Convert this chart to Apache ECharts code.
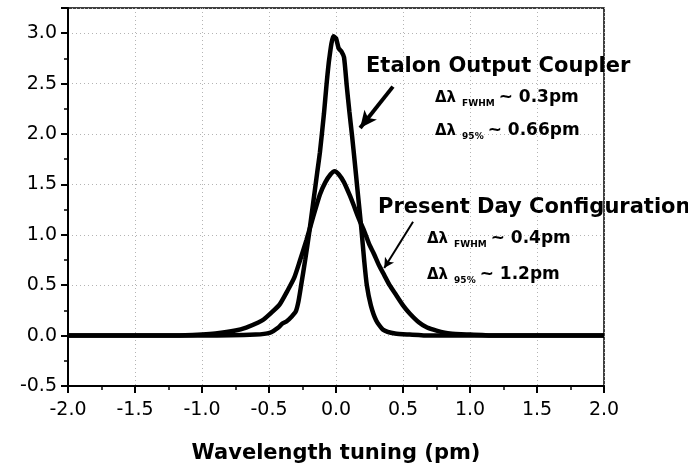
<!DOCTYPE html>
<html>
<head>
<meta charset="utf-8">
<script src="https://cdn.jsdelivr.net/npm/echarts@6/dist/echarts.min.js"></script>
<style>
    html, body { margin: 0; padding: 0; background: #fff; }
    #chart { width: 688px; height: 469px; }
</style>
</head>
<body>
<div id="chart"></div>
<script>
// 数据：波长调谐 (pm) 与强度
var etalonX = [-2.0, -1.5, -1.0, -0.6, -0.49, -0.43, -0.4, -0.37, -0.33, -0.3, -0.28, -0.26, -0.23, -0.2, -0.17, -0.14, -0.12, -0.09, -0.07, -0.05, -0.02, 0.0, 0.02, 0.04, 0.06, 0.08, 0.1, 0.12, 0.14, 0.16, 0.19, 0.21, 0.23, 0.26, 0.3, 0.35, 0.44, 0.55, 0.7, 1.0, 1.5, 2.0];
var etalonY = [0.0, 0.0, 0.0, 0.01, 0.03, 0.08, 0.12, 0.14, 0.19, 0.24, 0.34, 0.5, 0.75, 1.02, 1.32, 1.62, 1.82, 2.2, 2.5, 2.75, 2.97, 2.95, 2.85, 2.82, 2.76, 2.48, 2.22, 1.98, 1.72, 1.45, 1.05, 0.75, 0.5, 0.3, 0.15, 0.06, 0.02, 0.01, 0.0, 0.0, 0.0, 0.0];

var presentX = [-2.0, -1.5, -1.2, -1.0, -0.9, -0.75, -0.67, -0.58, -0.54, -0.48, -0.42, -0.36, -0.31, -0.27, -0.22, -0.17, -0.12, -0.08, -0.04, -0.01, 0.02, 0.06, 0.1, 0.13, 0.17, 0.21, 0.25, 0.28, 0.32, 0.36, 0.4, 0.44, 0.5, 0.55, 0.62, 0.68, 0.75, 0.85, 1.0, 1.2, 1.5, 2.0];
var presentY = [0.0, 0.0, 0.0, 0.01, 0.02, 0.05, 0.08, 0.13, 0.16, 0.23, 0.31, 0.45, 0.58, 0.74, 0.95, 1.18, 1.4, 1.52, 1.6, 1.63, 1.6, 1.52, 1.4, 1.3, 1.16, 1.04, 0.9, 0.82, 0.7, 0.6, 0.5, 0.42, 0.3, 0.22, 0.13, 0.08, 0.05, 0.02, 0.01, 0.0, 0.0, 0.0];

var xTicks = [-2.0, -1.5, -1.0, -0.5, 0.0, 0.5, 1.0, 1.5, 2.0];
var yTicks = [-0.5, 0.0, 0.5, 1.0, 1.5, 2.0, 2.5, 3.0];

function zip(xs, ys) {
    var out = [];
    for (var i = 0; i < xs.length; i++) {
        out.push([xs[i], ys[i]]);
    }
    return out;
}

var FONT = '"DejaVu Sans", "Liberation Sans", sans-serif';

// 注释文字 (Δλ + 下标)
function noteText(x, y, sub, val) {
    return {
        type: 'text',
        x: x,
        y: y,
        z: 100,
        style: {
            text: '{d|Δλ}{s|' + sub + '}{v|~ ' + val + '}',
            fill: '#000',
            verticalAlign: 'middle',
            rich: {
                d: { fontFamily: FONT, fontWeight: 'bold', fontSize: 15, fill: '#000' },
                s: { fontFamily: FONT, fontWeight: 'bold', fontSize: 9, fill: '#000', padding: [12, 4, 0, 6] },
                v: { fontFamily: FONT, fontWeight: 'bold', fontSize: 17, fill: '#000' }
            }
        }
    };
}

var chart = echarts.init(document.getElementById('chart'));
var option = {
    backgroundColor: '#fff',
    animation: false,
    grid: {
        left: 68,
        right: 84,
        top: 8,
        bottom: 82,
        show: true,
        borderColor: '#000',
        borderWidth: 1.5
    },
    xAxis: {
        type: 'value',
        min: xTicks[0],
        max: xTicks[xTicks.length - 1],
        interval: 0.5,
        name: 'Wavelength tuning (pm)',
        nameLocation: 'middle',
        nameGap: 57,
        nameTextStyle: { fontFamily: FONT, fontWeight: 'bold', fontSize: 21, color: '#000' },
        axisLine: { show: true, onZero: false, lineStyle: { color: '#000', width: 2 } },
        axisTick: { show: true, inside: false, length: 7, lineStyle: { color: '#000', width: 2 } },
        minorTick: { show: true, splitNumber: 2, length: 4, lineStyle: { color: '#000', width: 1.5 } },
        axisLabel: {
            margin: 15,
            fontFamily: FONT,
            fontSize: 19,
            color: '#000',
            formatter: function (v) { return v.toFixed(1); }
        },
        splitLine: { show: true, lineStyle: { color: '#b4b4b4', type: [1, 3], width: 1 } }
    },
    yAxis: {
        type: 'value',
        min: yTicks[0],
        max: 3.25,
        interval: 0.5,
        axisLine: { show: true, onZero: false, lineStyle: { color: '#000', width: 2 } },
        axisTick: { show: true, inside: false, length: 7, lineStyle: { color: '#000', width: 2 } },
        minorTick: { show: true, splitNumber: 2, length: 4, lineStyle: { color: '#000', width: 1.5 } },
        axisLabel: {
            margin: 11,
            fontFamily: FONT,
            fontSize: 19,
            color: '#000',
            showMaxLabel: false,
            formatter: function (v) {
                return yTicks.indexOf(v) >= 0 ? v.toFixed(1) : '';
            }
        },
        splitLine: { show: true, lineStyle: { color: '#b4b4b4', type: [1, 3], width: 1 } }
    },
    series: [{
        name: 'Etalon Output Coupler',
        type: 'line',
        data: zip(etalonX, etalonY),
        showSymbol: false,
        smooth: 0.2,
        lineStyle: { color: '#000', width: 4.5 },
        markLine: {
            silent: true,
            symbol: ['none', 'arrow'],
            symbolSize: [12, 17],
            label: { show: false },
            lineStyle: { color: '#000', width: 4, type: 'solid' },
            data: [[{ coord: [0.425, 2.47] }, { coord: [0.18, 2.06] }]]
        }
    }, {
        name: 'Present Day Configuration',
        type: 'line',
        data: zip(presentX, presentY),
        showSymbol: false,
        smooth: 0.2,
        lineStyle: { color: '#000', width: 4.5 },
        markLine: {
            silent: true,
            symbol: ['none', 'arrow'],
            symbolSize: [8, 10],
            label: { show: false },
            lineStyle: { color: '#000', width: 2, type: 'solid' },
            data: [[{ coord: [0.575, 1.13] }, { coord: [0.36, 0.67] }]]
        }
    }],
    graphic: [
        {
            type: 'text', x: 366, y: 67, z: 100,
            style: { text: 'Etalon Output Coupler', font: 'bold 21px ' + FONT, fill: '#000', verticalAlign: 'middle' }
        },
        noteText(435, 98, 'FWHM', '0.3pm'),
        noteText(435, 131, '95%', '0.66pm'),
        {
            type: 'text', x: 378, y: 208, z: 100,
            style: { text: 'Present Day Configuration', font: 'bold 21px ' + FONT, fill: '#000', verticalAlign: 'middle' }
        },
        noteText(427, 239, 'FWHM', '0.4pm'),
        noteText(427, 275, '95%', '1.2pm')
    ]
};
chart.setOption(option);
</script>
</body>
</html>
